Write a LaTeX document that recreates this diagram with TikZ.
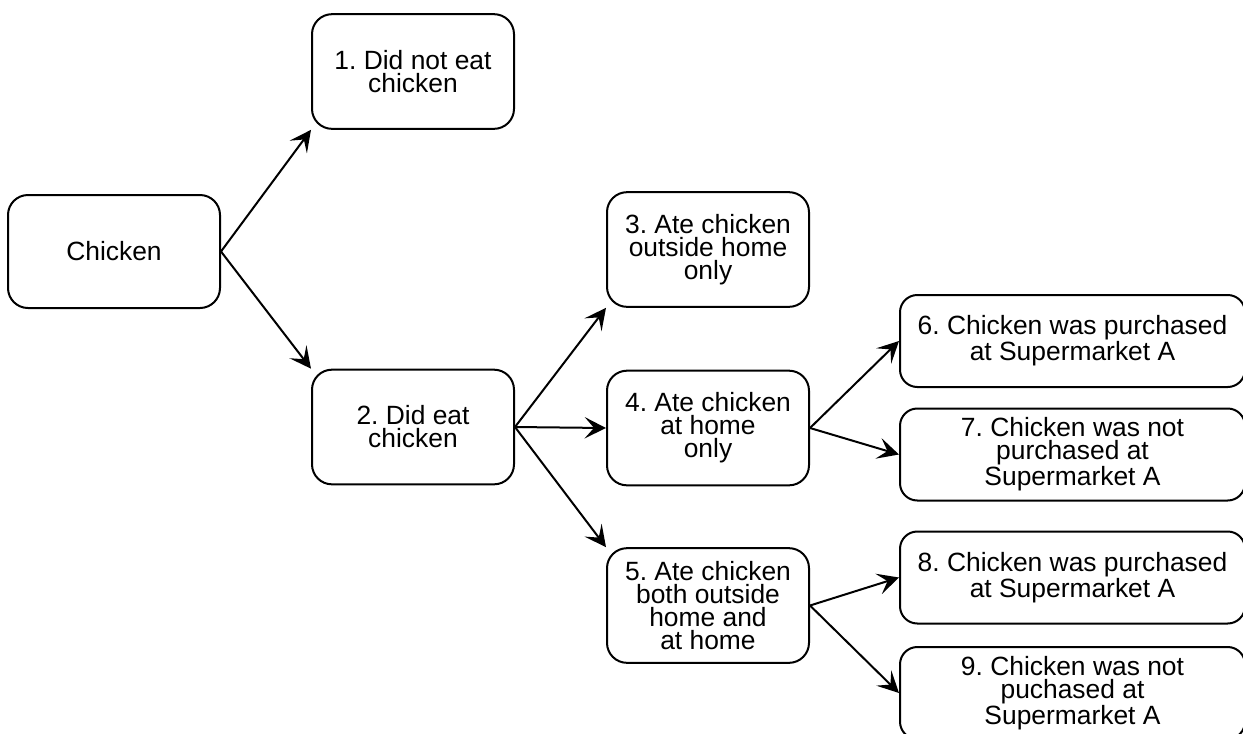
\documentclass[tikz,border=0pt]{standalone}
\usepackage{fontspec}
\setmainfont{Liberation Sans}
\usetikzlibrary{arrows.meta}
\frenchspacing

\tikzset{
  box/.style={draw, line width=1.5pt, rounded corners=15pt, align=center, inner sep=0.75pt,
    font=\fontsize{19.8}{17.2}\selectfont},
  midbox/.style={box, minimum width=151.5pt, minimum height=86pt},
  sidebox/.style={box, rounded corners=13pt, minimum width=258.75pt, minimum height=69pt},
  arr/.style={line width=1.5pt, -{Stealth[length=16pt, width=16pt, inset=7pt]}}
}

\begin{document}
\begin{tikzpicture}[x=0.75pt,y=0.75pt,yscale=-1,xscale=1]
\useasboundingbox (0,0) rectangle (1243,733);

% Text Node
\draw (114,251.5) node (chicken) [box, minimum width=159pt, minimum height=84.75pt] {Chicken};
% Text Node
\draw (413,71.5) node (noteat) [midbox] {1. Did not eat\\chicken};
% Text Node
\draw (413,427) node (ate) [midbox] {2. Did eat\\chicken};
% Text Node
\draw (708,249.5) node (outside) [midbox] {3. Ate chicken\\outside home\\only};
% Text Node
\draw (708,428) node (athome) [midbox] {4. Ate chicken\\at home\\only};
% Text Node
\draw (708,605.5) node (both) [midbox] {5. Ate chicken\\both outside\\home and\\at home};
% Text Node
\draw (1072.5,341) node (buyhome) [sidebox] {6. Chicken was purchased\\at Supermarket A};
% Text Node
\draw (1072.5,454.5) node (nobuyhome) [sidebox] {7. Chicken was not\\purchased at\\Supermarket A};
% Text Node
\draw (1072.5,577.5) node (buyboth) [sidebox] {8. Chicken was purchased\\at Supermarket A};
% Text Node
\draw (1072.5,693) node (nobuyboth) [sidebox] {9. Chicken was not\\puchased at\\Supermarket A};

%Straight Lines
\draw [arr] (chicken.east) -- (noteat.south west);
\draw [arr] (chicken.east) -- (ate.north west);
%Straight Lines
\draw [arr] (ate.east) -- (outside.south west);
\draw [arr] (ate.east) -- (athome.west);
\draw [arr] (ate.east) -- (both.north west);
%Straight Lines
\draw [arr] (athome.east) -- (buyhome.west);
\draw [arr] (athome.east) -- (nobuyhome.west);
\draw [arr] (both.east) -- (buyboth.west);
\draw [arr] (both.east) -- (nobuyboth.west);

\end{tikzpicture}
\end{document}
